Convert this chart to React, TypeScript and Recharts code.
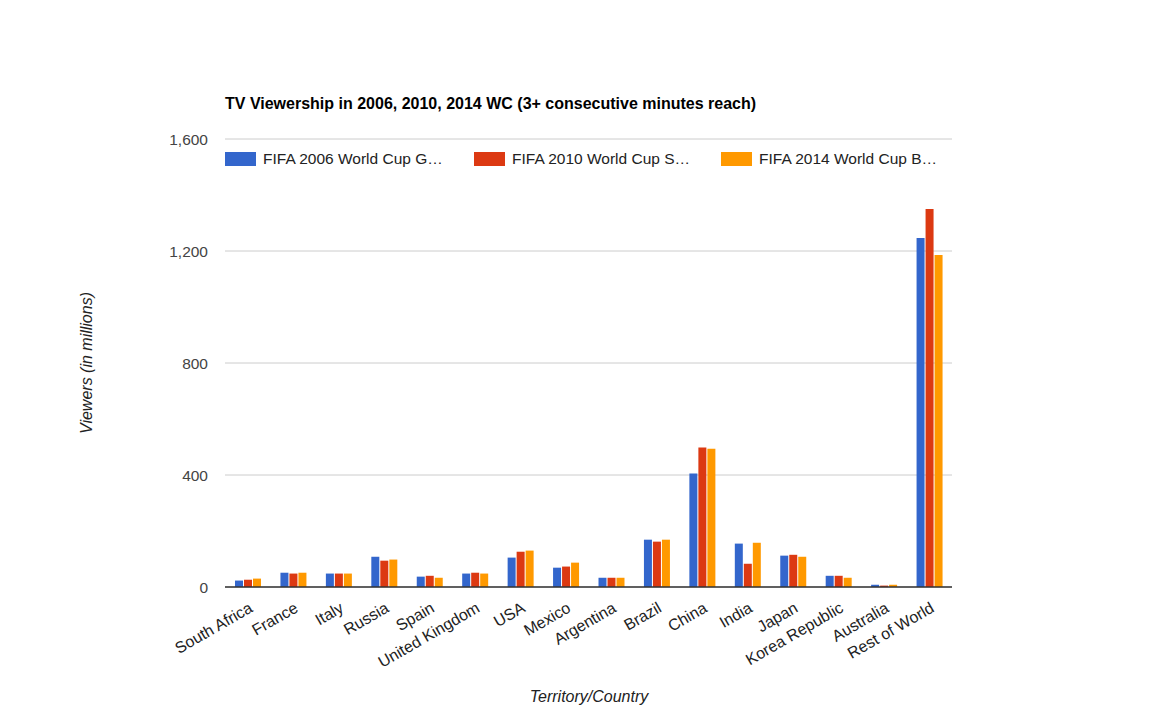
import React from 'react';
import { BarChart, Bar, CartesianGrid, XAxis, YAxis, Legend } from 'recharts';

const countries = [
  'South Africa', 'France', 'Italy', 'Russia', 'Spain', 'United Kingdom', 'USA', 'Mexico',
  'Argentina', 'Brazil', 'China', 'India', 'Japan', 'Korea Republic', 'Australia', 'Rest of World',
];
const wc2006 = [23, 51, 48, 108, 37, 48, 105, 69, 33, 169, 405, 155, 112, 40, 8, 1246];
const wc2010 = [26, 48, 48, 94, 40, 51, 126, 73, 33, 162, 498, 83, 115, 40, 5, 1350];
const wc2014 = [30, 51, 48, 98, 33, 48, 130, 87, 33, 169, 494, 158, 108, 33, 8, 1186];

const seriesNames = ['FIFA 2006 World Cup Germany', 'FIFA 2010 World Cup South Africa', 'FIFA 2014 World Cup Brazil'];
const legendLabels = ['FIFA 2006 World Cup G…', 'FIFA 2010 World Cup S…', 'FIFA 2014 World Cup B…'];
const colors = ['#3366CC', '#DC3912', '#FF9900'];
const yTicks = [0, 400, 800, 1200, 1600];

const data = countries.map((name, i) => ({
  name,
  wc2006: wc2006[i],
  wc2010: wc2010[i],
  wc2014: wc2014[i],
}));

const font = '"Liberation Sans", Arial, sans-serif';

const CountryTick = (props: any) => {
  const { x, y, payload } = props;
  return (
    <g transform={`translate(${x + 6},${y + 22})`}>
      <text textAnchor="end" transform="rotate(-30)" fontSize={16} fill="#222" fontFamily={font}>
        {payload.value}
      </text>
    </g>
  );
};

const LegendContent = () => (
  <div style={{ display: 'flex', fontFamily: font, fontSize: 15.5, color: '#222' }}>
    {legendLabels.map((label, i) => (
      <div key={label} style={{ display: 'flex', alignItems: 'center', width: i === 0 ? 249 : 247 }}>
        <span style={{ width: 31, height: 14, background: colors[i], display: 'inline-block', marginRight: 7 }} />
        <span>{label}</span>
      </div>
    ))}
  </div>
);

export default function App() {
  return (
    <div style={{ position: 'relative', width: 1160, height: 711, fontFamily: font }}>
      <div
        style={{
          position: 'absolute',
          left: 217,
          top: 87,
          fontSize: 16,
          fontWeight: 'bold',
          color: '#000',
          whiteSpace: 'nowrap',
        }}
      >
        TV Viewership in 2006, 2010, 2014 WC (3+ consecutive minutes reach)
      </div>
      <BarChart
        width={1160}
        height={711}
        data={data}
        margin={{ top: 131, right: 216, bottom: 72, left: 137 }}
        barSize={8}
        barGap={1}
      >
        <CartesianGrid vertical={false} stroke="#ccc" />
        <XAxis
          dataKey="name"
          interval={0}
          height={60}
          tickLine={false}
          tickSize={0}
          axisLine={{ stroke: '#333', strokeWidth: 1.5 }}
          tick={<CountryTick />}
          label={{
            value: 'Territory/Country',
            content: () => (
              <text x={581} y={694} textAnchor="middle" fontSize={16} fontStyle="italic" fill="#222" fontFamily={font}>
                Territory/Country
              </text>
            ),
          }}
        />
        <YAxis
          width={80}
          domain={[0, 1600]}
          ticks={yTicks}
          tickLine={false}
          axisLine={false}
          tickSize={0}
          tickMargin={17}
          tick={{ fontSize: 15.5, fill: '#444', fontFamily: font }}
          tickFormatter={(v: number) => v.toLocaleString('en-US')}
          label={{
            value: 'Viewers (in millions)',
            content: () => (
              <text
                x={78}
                y={355}
                textAnchor="middle"
                dominantBaseline="central"
                transform="rotate(-90, 78, 355)"
                fontSize={16}
                fontStyle="italic"
                fill="#222"
                fontFamily={font}
              >
                Viewers (in millions)
              </text>
            ),
          }}
        />
        <Legend
          layout="horizontal"
          verticalAlign="middle"
          align="center"
          content={<LegendContent />}
          wrapperStyle={{ top: 142, left: 217, width: 760, height: 16 }}
        />
        <Bar dataKey="wc2006" name={seriesNames[0]} fill={colors[0]} isAnimationActive={false} />
        <Bar dataKey="wc2010" name={seriesNames[1]} fill={colors[1]} isAnimationActive={false} />
        <Bar dataKey="wc2014" name={seriesNames[2]} fill={colors[2]} isAnimationActive={false} />
      </BarChart>
    </div>
  );
}
